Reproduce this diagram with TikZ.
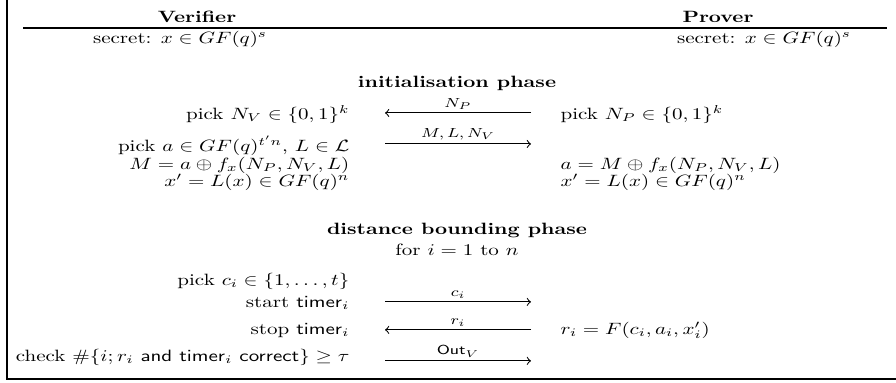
\documentclass[tikz,border=0pt]{standalone}
\usetikzlibrary{positioning}
\tikzset{
  every picture/.style={line width=0.6pt},
  party/.style={font=\bfseries, inner sep=0pt},
  phase/.style={font=\bfseries, inner sep=0pt},
  vside/.style={anchor=mid east, inner sep=0pt},
  pside/.style={anchor=mid west, inner sep=0pt},
  msg/.style={->, line width=0.5pt},
  lbl/.style={font=\footnotesize, above, inner sep=2pt},
}

\begin{document}
\begin{tikzpicture}[x=0.476pt, y=-0.61pt, yscale=0.78,
  every node/.append style={transform shape}]
  \useasboundingbox (0,0) rectangle (896,383);
  % frame and header rule
  \draw[line width=0.8pt] (7,0) -- (7,379) -- (896,379);
  \draw (23,28) -- (887,28);
  \node[party] (ver) at (197,17) {Verifier};
  \node[party] (prv) at (718,17) {Prover};
  \node[inner sep=0pt] (vsec) at (180,39) {secret: $x \in GF(q)^s$};
  \node[inner sep=0pt] (psec) at (764,39) {secret: $x \in GF(q)^s$};
  % message end points
  \foreach \n/\y in {1/113, 2/144, 6/302, 7/330, 8/361} {
    \coordinate (l\n) at (385,\y);
    \coordinate (r\n) at (531,\y);
  }
  % initialisation
  \node[phase] (init) at (457,83) {initialisation phase};
  \node[vside] (v1) at (350,116) {pick $N_V \in \{0,1\}^k$};
  \node[pside] (p1) at (560,116) {pick $N_P \in \{0,1\}^k$};
  \draw[msg] (r1) -- node[lbl] {$N_P$} (l1);
  \node[vside] (v2) at (350,148) {pick $a \in GF(q)^{t'n}$, $L \in \mathcal{L}$};
  \draw[msg] (l2) -- node[lbl] {$M, L, N_V$} (r2);
  \node[vside] (v3) at (350,166) {$M = a \oplus f_x(N_P, N_V, L)$};
  \node[pside] (p3) at (560,166) {$a = M \oplus f_x(N_P, N_V, L)$};
  \node[vside] (v4) at (350,183) {$x' = L(x) \in GF(q)^n$};
  \node[pside] (p4) at (560,183) {$x' = L(x) \in GF(q)^n$};
  % distance bounding
  \node[phase] (dist) at (457,231) {distance bounding phase};
  \node[inner sep=0pt] (loop) at (457,250) {for $i = 1$ to $n$};
  \node[vside] (v5) at (350,282) {pick $c_i \in \{1, \dots, t\}$};
  \node[vside] (v6) at (350,304) {start $\mathsf{timer}_i$};
  \draw[msg] (l6) -- node[lbl] {$c_i$} (r6);
  \node[vside] (v7) at (350,331) {stop $\mathsf{timer}_i$};
  \draw[msg] (r7) -- node[lbl] {$r_i$} (l7);
  \node[pside] (p7) at (560,331) {$r_i = F(c_i, a_i, x'_i)$};
  \node[vside] (v8) at (350,358) {check $\#\{i; r_i$ \textsf{and} $\mathsf{timer}_i$ \textsf{correct}$\} \geq \tau$};
  \draw[msg] (l8) -- node[lbl] {$\mathsf{Out}_V$} (r8);
\end{tikzpicture}
\end{document}
